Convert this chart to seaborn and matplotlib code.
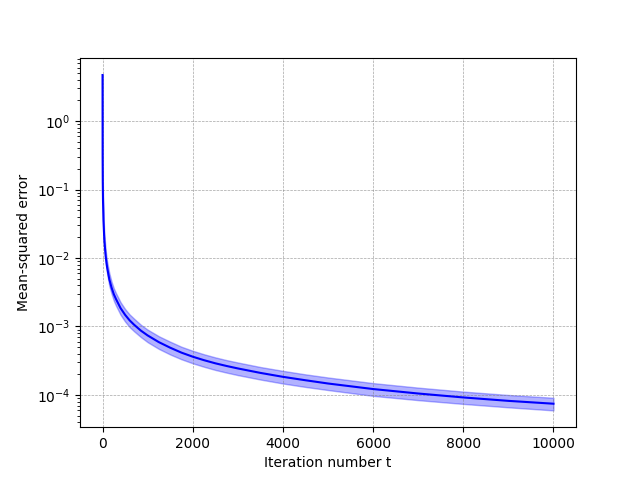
import numpy as np
import pandas as pd
import seaborn as sns
import matplotlib
matplotlib.use("Agg")
import matplotlib.pyplot as plt

# Values ######################################################################

iterations = [0, 2, 5, 10, 20, 40, 70, 100, 150, 200, 250, 300, 400, 500,
              600, 700, 850, 1000, 1250, 1500, 1750, 2000, 2250, 2500, 2750,
              3000, 3500, 4000, 4500, 5000, 6000, 7000, 8000, 9000, 10000]

mse_mean = [4.7, 0.3, 0.13, 0.07, 0.036, 0.018, 0.0105, 0.0074, 0.0049,
            0.0037, 0.00296, 0.0025, 0.00185, 0.00148, 0.00123, 0.00106,
            0.00087, 0.00074, 0.00059, 0.00049, 0.000415, 0.000362,
            0.000322, 0.00029, 0.000265, 0.000244, 0.00021, 0.000184,
            0.000164, 0.000147, 0.000122, 0.000105, 0.000092, 0.000082,
            0.0000745]

mse_lower = [4.6, 0.28, 0.115, 0.06, 0.03, 0.0148, 0.0085, 0.006, 0.0039,
             0.003, 0.00238, 0.002, 0.00148, 0.00118, 0.00098, 0.00085,
             0.0007, 0.00059, 0.00047, 0.00039, 0.000332, 0.00029, 0.000258,
             0.000232, 0.000212, 0.000195, 0.000168, 0.000147, 0.000131,
             0.000118, 0.000097, 0.000084, 0.000074, 0.000066, 0.0000595]

mse_upper = [4.8, 0.32, 0.145, 0.08, 0.043, 0.022, 0.0128, 0.009, 0.006,
             0.0045, 0.0036, 0.00305, 0.00226, 0.0018, 0.0015, 0.0013,
             0.00106, 0.0009, 0.00072, 0.0006, 0.000506, 0.000442, 0.000393,
             0.000354, 0.000323, 0.000298, 0.000256, 0.000225, 0.0002,
             0.00018, 0.000149, 0.000128, 0.000112, 0.0001, 0.000091]

df = pd.DataFrame({
    't': iterations,
    'mse': mse_mean,
    'lo': mse_lower,
    'hi': mse_upper,
})

# Plot ########################################################################

fig, ax = plt.subplots(figsize=(6.4, 4.8), dpi=100)

ax.fill_between(df['t'], df['lo'], df['hi'], color='blue', alpha=0.3, linewidth=1)
sns.lineplot(data=df, x='t', y='mse', color='blue', linewidth=1.5, ax=ax)

ax.set_yscale('log')
ax.set_xlabel('Iteration number t')
ax.set_ylabel('Mean-squared error')
ax.grid(True, which='major', linestyle='--', color='gray', linewidth=0.5, alpha=0.7)

plt.savefig('out.png', dpi=100)
